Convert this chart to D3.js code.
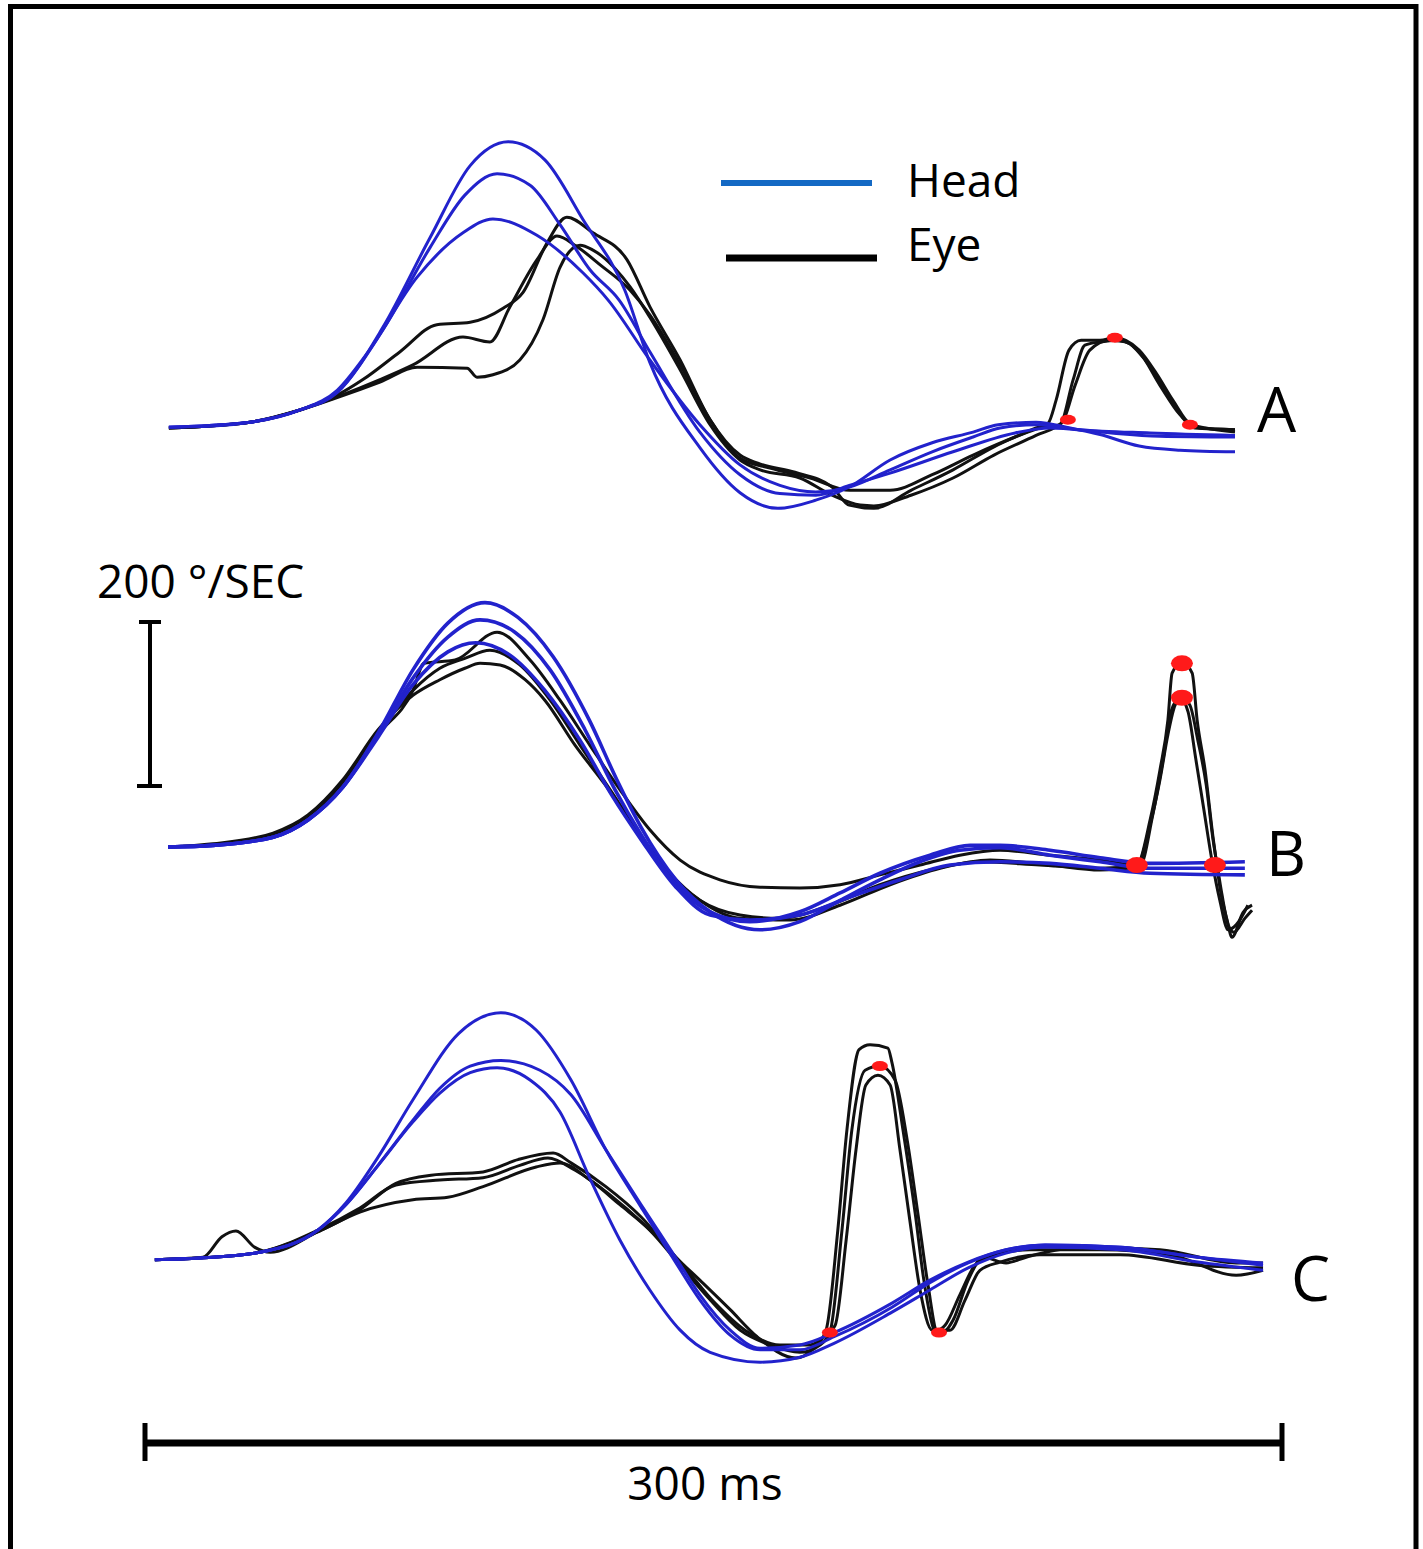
<!DOCTYPE html>
<html>
<head>
<meta charset="utf-8">
<script src="https://cdn.jsdelivr.net/npm/d3@7"></script>
<style>
  body { margin: 0; background: #fff; }
  svg text { font-family: "Open Sans", "Noto Sans", sans-serif; fill: #000; }
</style>
</head>
<body>
<div id="chart"></div>
<script>
// traces: [time (ms), velocity (deg/sec)]

// ---- panel A ----
var headA1 = [[6.3,1],[17.2,2],[27.7,7],[40.9,22],[50.7,43],[62.8,123],[75.2,232],[85.8,320],[95.8,349],[105.5,327],[115.6,254],[126.6,168],[133.2,80],[146.4,-24],[157.0,-79],[167.0,-98],[177.0,-88],[185.8,-72],[196.6,-39],[207.7,-18],[218.5,-5],[225.1,4],[235.1,7],[244.1,0],[252.0,-8],[262.3,-22],[273.1,-27],[287.6,-29]]
var headA2 = [[6.3,1],[27.7,7],[40.9,22],[50.7,44],[62.8,120],[75.2,220],[84.4,284],[92.9,310],[101.6,296],[109.5,248],[117.4,193],[125.1,156],[133.2,93],[146.4,-5],[157.0,-57],[167.5,-80],[177.0,-82],[185.8,-70],[196.6,-55],[213.2,-29],[229.6,-6],[238.8,0],[252.0,-5],[267.8,-10],[287.6,-11]]
var headA3 = [[6.3,1],[27.7,7],[40.9,22],[50.7,46],[58.6,91],[71.8,184],[83.9,238],[91.8,255],[103.4,235],[115.6,189],[122.2,156],[133.2,83],[146.4,4],[157.0,-45],[167.5,-70],[177.0,-78],[185.8,-72],[196.6,-51],[207.7,-29],[218.5,-11],[225.6,0],[235.1,4],[246.7,-2],[265.2,-6],[287.6,-9]]
var eyeA1 = [[6.3,0],[27.7,7],[40.9,22],[50.7,40],[57.5,59],[67.3,93],[77.0,126],[85.8,129],[94.5,146],[99.7,165],[106.1,226],[111.3,257],[118.2,238],[127.2,205],[133.2,148],[141.2,83],[149.1,10],[157.0,-33],[161.7,-43],[171.5,-54],[181.3,-72],[185.8,-94],[192.3,-98],[202.1,-76],[213.2,-51],[224.0,-23],[235.1,0],[238.3,6],[240.4,34],[243.8,95],[247.0,107],[252.0,107],[255.9,110],[262.3,95],[266.8,67],[271.2,34],[276.0,4],[279.9,0],[287.6,-5]]
var eyeA2 = [[6.3,0],[27.7,7],[40.9,22],[50.7,38],[62.0,59],[70.7,77],[83.9,111],[91.0,105],[96.3,148],[103.4,205],[108.7,234],[114.0,221],[120.1,199],[128.0,168],[133.2,138],[141.2,77],[149.1,10],[157.0,-37],[164.9,-49],[175.5,-61],[186.0,-76],[196.6,-76],[207.7,-57],[218.5,-33],[229.6,-11],[236.1,0],[241.4,4],[244.9,59],[248.0,101],[252.0,105],[256.7,107],[262.3,93],[267.8,52],[273.1,16],[277.0,0],[287.6,-2]]
var eyeA3 = [[6.3,0],[27.7,7],[40.9,22],[50.7,37],[62.0,56],[71.8,74],[85.0,73],[87.6,62],[91.8,65],[98.9,83],[105.0,132],[109.5,196],[114.8,223],[118.2,217],[128.0,172],[133.2,135],[141.2,71],[149.1,4],[157.0,-39],[162.3,-51],[172.8,-61],[181.3,-82],[188.7,-94],[192.3,-95],[202.1,-82],[213.2,-61],[224.0,-33],[235.1,-9],[242.0,7],[245.4,52],[249.3,95],[254.6,107],[258.6,105],[263.9,83],[269.1,46],[274.4,10],[278.4,0],[287.6,-2]]
var dotsA = [[243.5,10],[255.9,110],[275.7,4]]

// ---- panel B ----
var headB1 = [[6.1,0],[17.9,2],[33.8,12],[43.0,33],[52.2,73],[61.5,139],[70.7,216],[79.9,273],[89.7,298],[98.4,280],[107.7,232],[117.2,155],[124.5,82],[130.9,24],[140.1,-40],[149.1,-79],[162.3,-101],[172.8,-91],[183.4,-65],[193.9,-40],[204.5,-18],[215.0,-4],[225.6,-1],[238.8,-10],[252.0,-18],[265.2,-26],[290.2,-26]]
var headB2 = [[6.1,0],[17.9,2],[33.8,12],[43.0,33],[52.2,73],[61.5,137],[70.7,206],[79.9,256],[88.4,277],[97.6,262],[106.9,216],[116.1,143],[124.0,70],[130.9,15],[140.1,-46],[149.1,-79],[159.6,-91],[172.8,-79],[183.4,-56],[193.9,-32],[207.1,-10],[217.7,2],[225.6,2],[238.8,-4],[252.0,-13],[265.2,-20],[290.2,-18]]
var headB3 = [[6.1,0],[17.9,2],[33.8,12],[43.0,33],[52.2,73],[61.5,134],[70.7,198],[79.9,238],[87.3,249],[96.3,234],[105.5,191],[114.8,130],[123.2,63],[130.9,9],[140.1,-49],[149.1,-83],[159.6,-89],[172.8,-83],[186.0,-61],[199.2,-40],[212.4,-22],[225.6,-18],[238.8,-20],[252.0,-26],[265.2,-32],[290.2,-34]]
var eyeB1 = [[6.1,0],[17.9,2],[33.8,15],[43.0,35],[52.2,76],[61.5,137],[70.7,191],[73.6,224],[81.8,228],[92.9,262],[101.6,228],[109.5,179],[117.4,124],[125.3,70],[133.2,21],[141.2,-16],[151.7,-40],[162.3,-49],[172.8,-50],[183.4,-46],[193.9,-34],[204.5,-22],[215.0,-10],[225.6,-4],[238.8,-10],[252.0,-16],[261.7,-22],[265.2,33],[267.8,94],[269.9,155],[271.0,212],[273.6,226],[276.3,212],[277.6,155],[279.7,94],[281.8,12],[282.8,-22],[283.6,-49],[285.5,-89],[286.8,-110],[289.7,-80],[292.1,-71]]
var eyeB2 = [[6.1,0],[17.9,2],[33.8,15],[43.0,35],[52.2,78],[61.5,139],[70.7,191],[77.8,218],[84.4,230],[91.0,240],[98.9,222],[106.9,179],[114.8,124],[122.7,70],[130.6,15],[138.5,-34],[146.4,-65],[157.0,-83],[167.5,-87],[180.7,-71],[193.9,-46],[207.1,-28],[220.3,-18],[236.1,-22],[252.0,-26],[261.7,-23],[265.2,27],[267.8,82],[269.9,137],[271.8,173],[273.6,182],[275.7,173],[277.8,130],[280.0,76],[281.8,9],[283.1,-28],[284.2,-59],[285.8,-95],[287.3,-104],[290.2,-87],[292.1,-77]]
var eyeB3 = [[6.1,0],[17.9,4],[33.8,17],[43.0,39],[52.2,82],[61.5,143],[70.7,185],[77.8,204],[84.4,218],[88.4,224],[93.7,222],[100.3,204],[105.5,179],[113.5,124],[121.4,76],[130.6,15],[138.5,-32],[146.4,-65],[157.0,-87],[170.2,-89],[183.4,-71],[196.6,-46],[209.8,-26],[223.0,-16],[238.8,-22],[252.0,-28],[262.5,-24],[265.9,39],[268.6,106],[270.7,165],[273.1,182],[275.2,165],[277.3,106],[279.4,45],[281.5,-16],[283.6,-65],[285.8,-101],[287.9,-95],[291.0,-71]]
var dotsB = [[261.7,-22],[282.3,-22],[273.6,224],[273.6,182]]

// ---- panel C ----
var headC1 = [[2.6,-2],[14.5,0],[30.3,7],[45.6,34],[53.0,67],[61.5,123],[70.7,193],[82.8,274],[93.9,299],[103.2,278],[112.4,217],[121.6,132],[130.9,62],[140.1,-6],[146.4,-51],[154.4,-94],[162.3,-112],[172.8,-112],[181.8,-96],[197.1,-60],[207.1,-30],[217.2,-6],[227.2,10],[237.5,16],[257.5,13],[277.8,1],[295.0,-6]]
var headC2 = [[2.6,-2],[14.5,0],[30.3,7],[45.6,34],[53.0,65],[61.5,113],[70.7,168],[77.8,207],[85.8,234],[93.9,241],[104.2,229],[112.4,199],[121.6,132],[130.9,65],[140.1,0],[146.4,-45],[154.4,-88],[162.3,-110],[172.8,-106],[181.8,-91],[197.1,-55],[207.1,-27],[217.2,-5],[227.2,10],[237.5,16],[257.5,13],[277.8,1],[295.0,-9]]
var headC3 = [[2.6,-2],[14.5,0],[30.3,7],[45.6,34],[53.0,65],[61.5,113],[70.7,166],[77.8,201],[85.8,226],[92.9,232],[101.6,217],[109.5,178],[117.2,99],[125.3,22],[133.2,-39],[141.2,-88],[149.1,-115],[162.3,-127],[172.8,-121],[181.8,-104],[197.1,-66],[207.1,-39],[217.2,-12],[227.2,6],[237.5,13],[257.5,10],[277.8,-5],[295.0,-15]]
var eyeC1 = [[2.6,-2],[15.3,1],[20.3,26],[24.0,33],[29.0,13],[33.0,7],[45.6,32],[56.7,59],[66.2,91],[75.5,101],[89.2,105],[98.4,120],[107.7,128],[112.4,116],[121.6,87],[130.9,50],[140.1,1],[146.4,-27],[154.4,-63],[161.5,-96],[171.8,-122],[176.0,-112],[179.7,-88],[182.8,34],[185.2,156],[188.4,254],[191.3,260],[196.0,256],[197.1,238],[200.0,156],[203.2,55],[205.5,-27],[208.2,-88],[209.5,-94],[213.2,-76],[217.2,-27],[221.1,1],[227.2,-6],[232.5,1],[247.5,13],[267.8,10],[287.9,-6],[295.0,-6]]
var eyeC2 = [[2.6,-2],[14.5,0],[30.3,7],[45.6,32],[56.7,56],[70.7,71],[79.9,74],[89.2,87],[103.2,111],[109.5,116],[117.4,95],[125.3,65],[133.2,34],[141.2,-9],[149.1,-51],[157.0,-88],[164.9,-106],[172.8,-115],[178.1,-106],[180.7,-91],[183.9,34],[186.5,156],[190.0,229],[193.9,234],[197.9,217],[201.1,144],[204.0,52],[206.6,-33],[209.0,-88],[211.1,-82],[215.0,-45],[219.0,-9],[224.3,4],[233.5,10],[252.0,10],[270.4,4],[287.9,-21],[295.0,-15]]
var eyeC3 = [[2.6,-2],[14.5,0],[30.3,7],[45.6,34],[56.7,61],[66.2,89],[77.8,95],[89.2,98],[98.9,113],[106.3,122],[113.5,107],[122.7,77],[131.9,40],[141.2,-5],[150.4,-55],[158.3,-88],[167.5,-106],[175.5,-106],[178.6,-98],[182.1,-82],[185.0,22],[187.6,132],[190.2,211],[193.4,223],[196.6,211],[199.2,132],[201.8,46],[204.5,-39],[207.7,-88],[212.4,-88],[216.4,-51],[220.3,-15],[225.6,-5],[236.1,4],[257.3,4],[278.4,-9],[295.0,-12]]
var dotsC = [[180.7,-91],[193.9,234],[209.5,-91]]

var panelLabels = ["A", "B", "C"]
var legendLabels = ["Head", "Eye"]
var timeBar = 300      // ms
var velocityBar = 200  // deg/sec

// Layout
const width = 1423, height = 1549

var svg = d3.select("#chart")
  .append("svg")
  .attr("width", width)
  .attr("height", height)

// frame (bottom edge is cut off in the original)
svg.append("path")
  .attr("d", "M10.5,1552 V6.5 H1416 V1552")
  .attr("fill", "none")
  .attr("stroke", "#000")
  .attr("stroke-width", 5)

// shared time scale, 300 ms = length of the bottom bar
var x = d3.scaleLinear()
  .domain([0, 300])
  .range([145, 1282])

var pxPerDeg = 0.82

var panels = [
  {label: panelLabels[0], base: 428, head: [headA1, headA2, headA3], eye: [eyeA1, eyeA2, eyeA3], dots: dotsA, rx: 8, ry: 5, lx: 1257, ly: 432, hw: 3},
  {label: panelLabels[1], base: 847, head: [headB1, headB2, headB3], eye: [eyeB1, eyeB2, eyeB3], dots: dotsB, rx: 11, ry: 8, lx: 1266, ly: 876, hw: 3.6},
  {label: panelLabels[2], base: 1258, head: [headC1, headC2, headC3], eye: [eyeC1, eyeC2, eyeC3], dots: dotsC, rx: 8, ry: 5, lx: 1291, ly: 1301, hw: 3}
]

panels.forEach(function(p) {
  var y = d3.scaleLinear()
    .domain([0, 200])
    .range([p.base, p.base - 200 * pxPerDeg])

  var line = d3.line()
    .x(function(d) { return x(d[0]) })
    .y(function(d) { return y(d[1]) })
    .curve(d3.curveMonotoneX)

  var g = svg.append("g")

  // eye traces
  g.selectAll(".eye")
    .data(p.eye)
    .enter()
    .append("path")
    .attr("d", line)
    .attr("fill", "none")
    .attr("stroke", "#111")
    .attr("stroke-width", 3)
    .attr("stroke-linejoin", "round")

  // head traces
  g.selectAll(".head")
    .data(p.head)
    .enter()
    .append("path")
    .attr("d", line)
    .attr("fill", "none")
    .attr("stroke", "#2222cc")
    .attr("stroke-width", p.hw)
    .attr("stroke-linejoin", "round")

  // saccade markers
  g.selectAll(".dot")
    .data(p.dots)
    .enter()
    .append("ellipse")
    .attr("cx", function(d) { return x(d[0]) })
    .attr("cy", function(d) { return y(d[1]) })
    .attr("rx", p.rx)
    .attr("ry", p.ry)
    .attr("fill", "#ff1a1a")

  g.append("text")
    .attr("x", p.lx)
    .attr("y", p.ly)
    .style("font-size", "62px")
    .text(p.label)
})

// legend
var legendColors = ["#1469c4", "#000"]
legendLabels.forEach(function(lab, i) {
  svg.append("line")
    .attr("x1", 721 + i * 5).attr("x2", 872 + i * 5)
    .attr("y1", 183 + i * 75).attr("y2", 183 + i * 75)
    .attr("stroke", legendColors[i])
    .attr("stroke-width", i == 0 ? 6 : 7)
  svg.append("text")
    .attr("x", 907)
    .attr("y", 197 + i * 64)
    .style("font-size", "46px")
    .text(lab)
})

// vertical scale bar, 200 deg/sec
var yBar = d3.scaleLinear()
  .domain([0, 200])
  .range([786, 786 - 200 * pxPerDeg])

var vbar = svg.append("g")
  .attr("stroke", "#000")
  .attr("stroke-width", 4)
vbar.append("line").attr("x1", 150).attr("x2", 150).attr("y1", yBar(0)).attr("y2", yBar(velocityBar))
vbar.append("line").attr("x1", 137).attr("x2", 162).attr("y1", yBar(0)).attr("y2", yBar(0))
vbar.append("line").attr("x1", 139).attr("x2", 161).attr("y1", yBar(velocityBar)).attr("y2", yBar(velocityBar))

svg.append("text")
  .attr("x", 97)
  .attr("y", 598)
  .style("font-size", "46px")
  .text(velocityBar + " °/SEC")

// horizontal scale bar, 300 ms
var hbar = svg.append("g")
  .attr("stroke", "#000")
hbar.append("line")
  .attr("x1", x(0)).attr("x2", x(timeBar))
  .attr("y1", 1443).attr("y2", 1443)
  .attr("stroke-width", 7)
hbar.append("line")
  .attr("x1", x(0)).attr("x2", x(0))
  .attr("y1", 1423).attr("y2", 1461)
  .attr("stroke-width", 5)
hbar.append("line")
  .attr("x1", x(timeBar)).attr("x2", x(timeBar))
  .attr("y1", 1423).attr("y2", 1461)
  .attr("stroke-width", 5)

svg.append("text")
  .attr("x", 705)
  .attr("y", 1500)
  .attr("text-anchor", "middle")
  .style("font-size", "46px")
  .text(timeBar + " ms")
</script>
</body>
</html>
